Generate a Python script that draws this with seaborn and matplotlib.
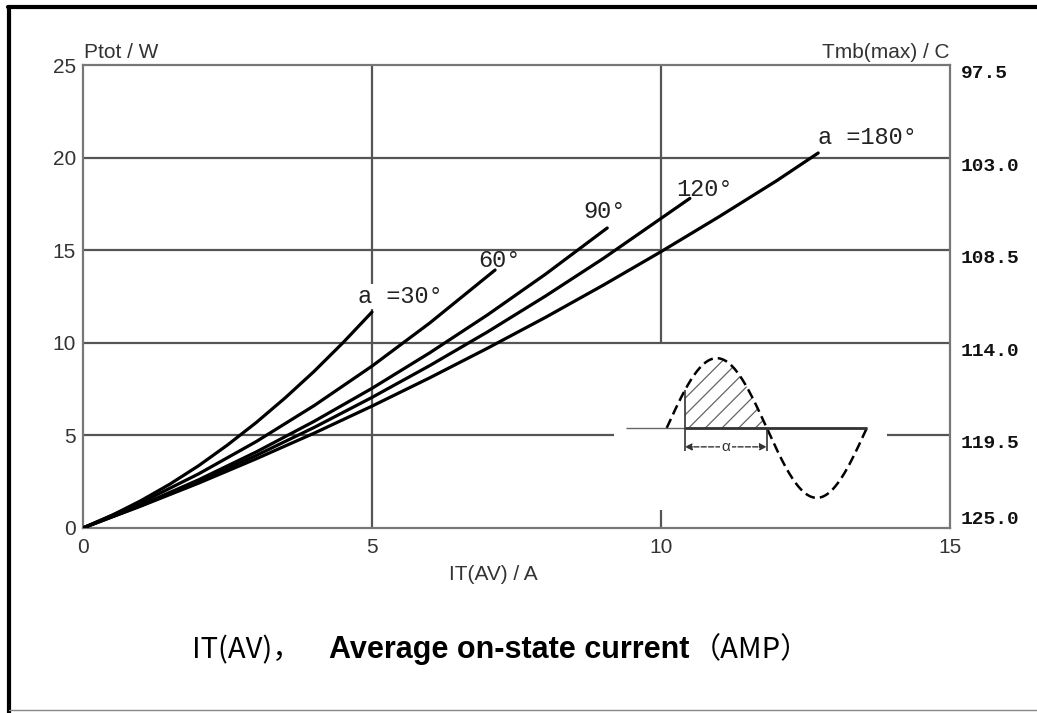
import numpy as np
import pandas as pd
import matplotlib.pyplot as plt
import seaborn as sns

sns.set_style("white")
plt.rcParams['font.family'] = ['Liberation Sans', 'DejaVu Sans']
plt.rcParams['hatch.linewidth'] = 0.9

# %% data (IT(AV) in A, Ptot in W)
i_30 = [0, 0.5, 1, 1.5, 2, 2.5, 3, 3.5, 4, 4.5, 5.0]
p_30 = [0, 0.68, 1.47, 2.36, 3.36, 4.48, 5.70, 7.03, 8.46, 10.01, 11.66]
i_60 = [0, 1, 2, 3, 4, 5, 6, 7.13]
p_60 = [0, 1.36, 2.92, 4.67, 6.61, 8.74, 11.07, 13.93]
i_90 = [0, 1, 2, 3, 4, 5, 6, 7, 8, 9.07]
p_90 = [0, 1.23, 2.60, 4.11, 5.76, 7.54, 9.46, 11.51, 13.70, 16.2]
i_120 = [0, 1, 2, 3, 4, 5, 6, 7, 8, 9, 10.5]
p_120 = [0, 1.20, 2.51, 3.92, 5.43, 7.05, 8.77, 10.59, 12.52, 14.55, 17.8]
i_180 = [0, 1, 2, 3, 4, 5, 6, 7, 8, 9, 10, 11, 12, 12.72]
p_180 = [0, 1.18, 2.42, 3.74, 5.12, 6.58, 8.11, 9.71, 11.37, 13.11, 14.92, 16.80, 18.75, 20.25]

angles = ['30', '60', '90', '120', '180']
curve_labels = ['a =30°', '60°', '90°', '120°', 'a =180°']

x_ticks = [0, 5, 10, 15]
p_ticks = [0, 5, 10, 15, 20, 25]
tmb_labels = ['125.0', '119.5', '114.0', '108.5', '103.0', '97.5']

# inset sketch: firing angle and conduction end (radians)
fire_phase = 0.57
end_phase = np.pi

df = pd.concat([
    pd.DataFrame({'I': i, 'P': p, 'angle': a})
    for i, p, a in zip([i_30, i_60, i_90, i_120, i_180],
                       [p_30, p_60, p_90, p_120, p_180], angles)
])

# %% figure
fig = plt.figure(figsize=(10.37, 7.13), dpi=100)
ax = fig.add_axes([0.0800, 0.2595, 0.8361, 0.6493])

grid_c = '#555555'
for y in [10, 15, 20]:
    ax.hlines(y, 0, 15, color=grid_c, lw=1.6, zorder=1)
ax.hlines(5, 0, 9.19, color=grid_c, lw=1.6, zorder=1)
ax.hlines(5, 13.91, 15, color=grid_c, lw=1.6, zorder=1)
ax.vlines(5, 0, 11.8, color=grid_c, lw=1.6, zorder=1)
ax.vlines(5, 13.2, 25, color=grid_c, lw=1.6, zorder=1)
ax.vlines(10, 10, 25, color=grid_c, lw=1.6, zorder=1)
ax.vlines(10, 0, 0.97, color=grid_c, lw=1.6, zorder=1)

sns.lineplot(data=df, x='I', y='P', hue='angle', units='angle', estimator=None,
             palette={a: 'black' for a in angles}, lw=2.3, legend=False,
             sort=False, ax=ax, zorder=3)

ax.set_xlim(0, 15)
ax.set_ylim(0, 25)
ax.set_xticks(x_ticks)
ax.set_yticks(p_ticks)
ax.set_xlabel('')
ax.set_ylabel('')
ax.tick_params(length=0, labelsize=15, labelcolor='#333333')
ax.tick_params(axis='x', pad=7)
ax.tick_params(axis='y', pad=5)
for s in ax.spines.values():
    s.set_color('#777777')
    s.set_linewidth(1.6)

ax2 = ax.twinx()
ax2.set_ylim(0, 25)
ax2.set_yticks(p_ticks)
ax2.set_yticklabels(tmb_labels, family='Liberation Mono', fontsize=14,
                    fontweight='bold', color='#111111')
ax2.tick_params(length=0, pad=8)
for k, lab in enumerate(ax2.get_yticklabels()):
    lab.set_va('bottom' if k == 0 else 'top')
for s in ax2.spines.values():
    s.set_visible(False)

# axis titles
ax.text(0.001, 1.006, 'Ptot / W', transform=ax.transAxes, ha='left', va='bottom',
        fontsize=15, color='#333333')
ax.text(1.0, 1.006, 'Tmb(max) / C', transform=ax.transAxes, ha='right', va='bottom',
        fontsize=15, color='#333333')
ax.text(0.473, -0.1, 'IT(AV) / A', transform=ax.transAxes, ha='center', va='center',
        fontsize=15, color='#333333')

# curve labels near the curve ends
ends = [(i_30[-1], p_30[-1]), (i_60[-1], p_60[-1]), (i_90[-1], p_90[-1]),
        (i_120[-1], p_120[-1]), (i_180[-1], p_180[-1])]
offs = [(-0.24, 0.85), (-0.3, 0.5), (-0.42, 0.9), (-0.24, 0.5), (0.0, 0.85)]
for (x, y), (dx, dy), t in zip(ends, offs, curve_labels):
    ax.text(x + dx, y + dy, t, family='Liberation Mono', fontsize=17,
            ha='left', va='center', color='#222222', zorder=4)

# %% inset: phase control sketch
ins = ax.inset_axes([0.619, 0.050, 0.300, 0.334])
ins.set_xlim(-1.477, 6.69)
ins.set_ylim(-1.1, 1.114)
ins.axis('off')
ph = np.linspace(0, 2 * np.pi, 200)
ins.plot(ph, np.sin(ph), color='black', lw=1.8, ls=(0, (4, 2)))
ins.hlines(0, -1.288, 2 * np.pi, color='#666666', lw=1.0)
ins.hlines(0, fire_phase, 2 * np.pi, color='#333333', lw=2.0)
hp = np.linspace(fire_phase, end_phase, 60)
ins.fill_between(hp, 0, np.sin(hp), facecolor='none', edgecolor='#666666',
                 hatch='//', lw=0)
ins.vlines(fire_phase, -0.33, np.sin(fire_phase), color='#333333', lw=1.2)
ins.vlines(end_phase, -0.33, 0, color='#333333', lw=1.2)
ins.annotate('', xy=(fire_phase, -0.27), xytext=(end_phase, -0.27),
             arrowprops=dict(arrowstyle='<|-|>', color='#333333', lw=1.0,
                             ls='--', mutation_scale=10, shrinkA=0, shrinkB=0))
ins.text((fire_phase + end_phase) / 2, -0.27, 'α', ha='center', va='center',
         fontsize=11, color='#333333',
         bbox=dict(facecolor='white', edgecolor='none', pad=1))

# %% caption
cap1 = fig.text(0.185, 0.088, 'IT(AV)，', family=['Noto Sans CJK SC', 'DejaVu Sans'],
                fontsize=21, va='center', ha='left', color='black')
cap2 = ax.annotate('Average on-state current', xy=(1, 0.5), xycoords=cap1,
                   xytext=(20, 0), textcoords='offset points',
                   va='center', ha='left', fontsize=22, fontweight='bold',
                   family='Liberation Sans', color='black')
ax.annotate('（AMP）', xy=(1, 0.5), xycoords=cap2, va='center', ha='left',
            xytext=(2, 0), textcoords='offset points',
            fontsize=21, family=['Noto Sans CJK SC', 'DejaVu Sans'],
            color='black', annotation_clip=False)

# %% page frame
fig.add_artist(plt.Line2D([9 / 1037, 9 / 1037], [0, 706 / 713], color='black', lw=3.0))
fig.add_artist(plt.Line2D([8 / 1037, 1], [706 / 713, 706 / 713], color='black', lw=3.0))
fig.add_artist(plt.Line2D([9 / 1037, 1], [3 / 713, 3 / 713], color='#888888', lw=1.0))

fig.savefig('out.png', dpi=100)
